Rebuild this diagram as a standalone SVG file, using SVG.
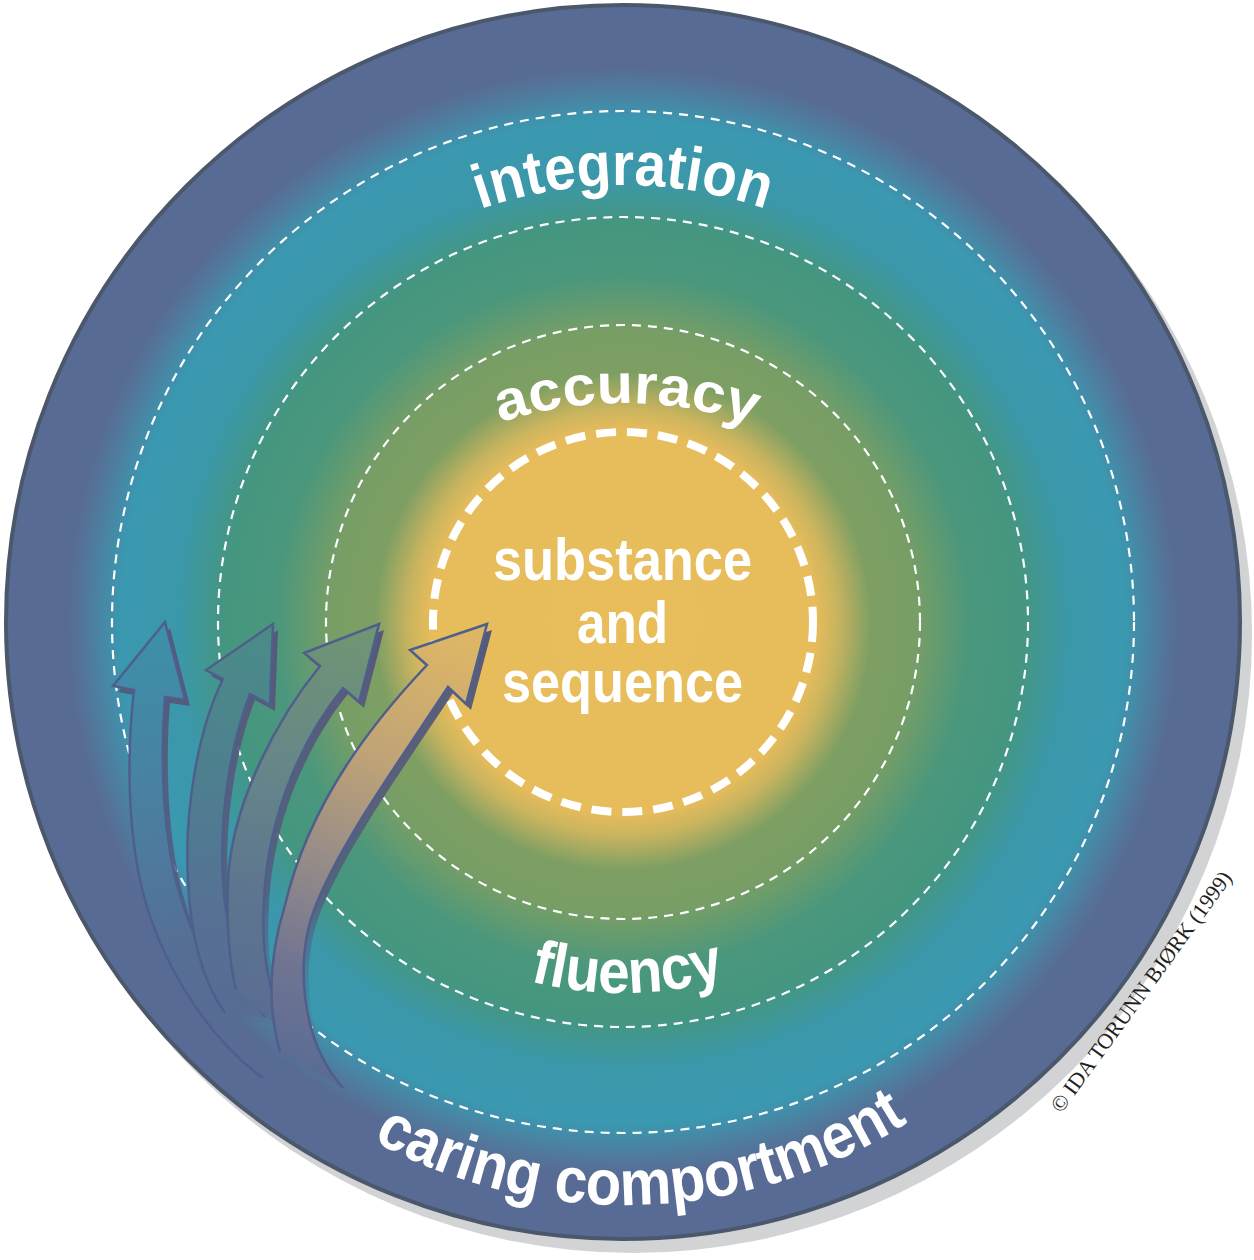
<svg xmlns="http://www.w3.org/2000/svg" width="1254" height="1260" viewBox="0 0 1254 1260">
  <style>
    .ring-label { font-family: "Liberation Sans", Arial, sans-serif; font-weight: bold; fill: #ffffff; }
    .center-label { font-family: "Liberation Sans", Arial, sans-serif; font-weight: bold; font-size: 60px; fill: #ffffff; }
    .thin-dash { fill: none; stroke: #ffffff; stroke-width: 2.2; stroke-dasharray: 9 7; }
    .thick-dash { fill: none; stroke: #ffffff; stroke-width: 8; stroke-dasharray: 20 11; }
    .arrow-outline { fill: none; stroke: #4F5F8B; stroke-width: 2.5; stroke-linejoin: miter; }
    .copyright { font-family: "Liberation Serif", "Times New Roman", serif; font-size: 22px; fill: #231F20; }
  </style>
  <defs>
    <radialGradient id="bgGrad" gradientUnits="userSpaceOnUse" cx="623" cy="622" r="620">
      <stop offset="0" stop-color="#E8BD5A"/>
      <stop offset="0.31" stop-color="#E7BC5B"/>
      <stop offset="0.345" stop-color="#C9B45F"/>
      <stop offset="0.40" stop-color="#7E9F63"/>
      <stop offset="0.47" stop-color="#789E65"/>
      <stop offset="0.56" stop-color="#4A977D"/>
      <stop offset="0.64" stop-color="#45967F"/>
      <stop offset="0.72" stop-color="#3B98AA"/>
      <stop offset="0.81" stop-color="#3A98B0"/>
      <stop offset="0.86" stop-color="#4F7C9E"/>
      <stop offset="0.895" stop-color="#586B94"/>
      <stop offset="1" stop-color="#586B94"/>
    </radialGradient>
    <linearGradient id="a1Grad" gradientUnits="userSpaceOnUse" x1="150" y1="630" x2="210" y2="1060">
      <stop offset="0" stop-color="#3D90AA"/>
      <stop offset="0.4" stop-color="#4A7FA0"/>
      <stop offset="0.75" stop-color="#566E96"/>
      <stop offset="1" stop-color="#586B94"/>
    </linearGradient>
    <linearGradient id="a2Grad" gradientUnits="userSpaceOnUse" x1="250" y1="630" x2="230" y2="1030">
      <stop offset="0" stop-color="#4A8C88"/>
      <stop offset="0.4" stop-color="#4E7E90"/>
      <stop offset="0.75" stop-color="#576F95"/>
      <stop offset="1" stop-color="#586B94"/>
    </linearGradient>
    <linearGradient id="a3Grad" gradientUnits="userSpaceOnUse" x1="350" y1="630" x2="260" y2="1050">
      <stop offset="0" stop-color="#6F9573"/>
      <stop offset="0.35" stop-color="#668689"/>
      <stop offset="0.65" stop-color="#5D758F"/>
      <stop offset="1" stop-color="#586B94"/>
    </linearGradient>
    <linearGradient id="a4Grad" gradientUnits="userSpaceOnUse" x1="460" y1="640" x2="300" y2="1080">
      <stop offset="0" stop-color="#DDB665"/>
      <stop offset="0.3" stop-color="#BFA377"/>
      <stop offset="0.55" stop-color="#958B88"/>
      <stop offset="0.78" stop-color="#707492"/>
      <stop offset="1" stop-color="#586B94"/>
    </linearGradient>
    <linearGradient id="shadowGrad" gradientUnits="userSpaceOnUse" x1="0" y1="620" x2="0" y2="1060">
      <stop offset="0" stop-color="#55597A" stop-opacity="1"/>
      <stop offset="0.6" stop-color="#555B7C" stop-opacity="0.85"/>
      <stop offset="1" stop-color="#586B94" stop-opacity="0"/>
    </linearGradient>
    <path id="p-int" d="M 186 622 A 437 437 0 0 1 1060 622"/>
    <path id="p-acc" d="M 226 800 A 397 397 0 0 1 1020 800"/>
    <path id="p-flu" d="M 252 622 A 371 371 0 0 0 994 622"/>
    <path id="p-car" d="M 100 680 A 525 525 0 0 0 1150 680"/>
  </defs>

  <g id="background">
    <circle cx="633" cy="634" r="619" fill="#D2D3D5"/>
    <circle cx="623" cy="622" r="617" fill="url(#bgGrad)" stroke="#4B586B" stroke-width="4"/>
  </g>

  <g id="ring-caring">
    <text class="ring-label" font-size="64"><textPath href="#p-car" startOffset="51.1%" text-anchor="middle" textLength="562" lengthAdjust="spacingAndGlyphs">caring comportment</textPath></text>
  </g>

  <g id="ring-integration">
    <circle class="thin-dash" cx="623" cy="622" r="511"/>
    <text class="ring-label" font-size="62"><textPath href="#p-int" startOffset="50%" text-anchor="middle" textLength="291" lengthAdjust="spacingAndGlyphs">integration</textPath></text>
  </g>

  <g id="ring-fluency">
    <circle class="thin-dash" cx="623" cy="622" r="405"/>
    <text class="ring-label" font-size="62"><textPath href="#p-flu" startOffset="50.4%" text-anchor="middle" textLength="198" lengthAdjust="spacingAndGlyphs">fluency</textPath></text>
  </g>

  <g id="ring-accuracy">
    <circle class="thin-dash" cx="623" cy="622" r="297"/>
    <text class="ring-label" font-size="56"><textPath href="#p-acc" startOffset="50.3%" text-anchor="middle" textLength="258" lengthAdjust="spacingAndGlyphs">accuracy</textPath></text>
  </g>

  <g id="node-substance">
    <circle class="thick-dash" cx="623" cy="622" r="190"/>
    <text class="center-label"><tspan x="493" y="580" textLength="259" lengthAdjust="spacingAndGlyphs">substance</tspan><tspan x="577" y="643" textLength="91" lengthAdjust="spacingAndGlyphs">and</tspan><tspan x="502" y="702" textLength="241" lengthAdjust="spacingAndGlyphs">sequence</tspan></text>
  </g>

  <g id="connectors">
    <g id="arrow-1">
      <path d="M 222 980 C 205 960 190 930 180 895 C 163 840 160 760 165 697 L 185 700 L 165 622 L 113 686 L 134 690 C 126 760 128 840 145 900 C 165 970 210 1040 263 1078 Z" fill="url(#shadowGrad)" transform="translate(5,6)"/>
      <path d="M 222 980 C 205 960 190 930 180 895 C 163 840 160 760 165 697 L 185 700 L 165 622 L 113 686 L 134 690 C 126 760 128 840 145 900 C 165 970 210 1040 263 1078 Z" fill="url(#a1Grad)"/>
      <path class="arrow-outline" d="M 222 980 C 205 960 190 930 180 895 C 163 840 160 760 165 697 L 185 700 L 165 622 L 113 686 L 134 690 C 126 760 128 840 145 900 C 165 970 210 1040 263 1078"/>
    </g>
    <g id="arrow-2">
      <path d="M 265 1017 C 245 990 226 940 223 880 C 219 810 232 740 250 694 L 270 705 L 273 624 L 206 670 L 223 679 C 198 730 184 810 188 880 C 190 940 205 985 225 1013 Z" fill="url(#shadowGrad)" transform="translate(5,6)"/>
      <path d="M 265 1017 C 245 990 226 940 223 880 C 219 810 232 740 250 694 L 270 705 L 273 624 L 206 670 L 223 679 C 198 730 184 810 188 880 C 190 940 205 985 225 1013 Z" fill="url(#a2Grad)"/>
      <path class="arrow-outline" d="M 265 1017 C 245 990 226 940 223 880 C 219 810 232 740 250 694 L 270 705 L 273 624 L 206 670 L 223 679 C 198 730 184 810 188 880 C 190 940 205 985 225 1013"/>
    </g>
    <g id="arrow-3">
      <path d="M 297 1043 C 272 1010 260 960 264 900 C 268 810 305 735 343 688 L 359 702 L 379 624 L 304 653 L 320 666 C 280 715 232 800 228 880 C 226 930 230 965 236 990 Z" fill="url(#shadowGrad)" transform="translate(5,6)"/>
      <path d="M 297 1043 C 272 1010 260 960 264 900 C 268 810 305 735 343 688 L 359 702 L 379 624 L 304 653 L 320 666 C 280 715 232 800 228 880 C 226 930 230 965 236 990 Z" fill="url(#a3Grad)"/>
      <path class="arrow-outline" d="M 297 1043 C 272 1010 260 960 264 900 C 268 810 305 735 343 688 L 359 702 L 379 624 L 304 653 L 320 666 C 280 715 232 800 228 880 C 226 930 230 965 236 990"/>
    </g>
    <g id="arrow-4">
      <path d="M 343 1088 C 300 1040 296 960 313 913 C 335 850 400 760 448 687 L 466 704 L 487 624 L 410 650 L 427 665 C 375 720 310 800 285 905 C 268 960 268 1010 280 1052 Z" fill="url(#shadowGrad)" transform="translate(5,6)"/>
      <path d="M 343 1088 C 300 1040 296 960 313 913 C 335 850 400 760 448 687 L 466 704 L 487 624 L 410 650 L 427 665 C 375 720 310 800 285 905 C 268 960 268 1010 280 1052 Z" fill="url(#a4Grad)"/>
      <path class="arrow-outline" d="M 343 1088 C 300 1040 296 960 313 913 C 335 850 400 760 448 687 L 466 704 L 487 624 L 410 650 L 427 665 C 375 720 310 800 285 905 C 268 960 268 1010 280 1052"/>
    </g>
  </g>

  <g id="copyright">
    <text class="copyright" transform="translate(1147,996) rotate(-54)" text-anchor="middle" textLength="292" lengthAdjust="spacingAndGlyphs">© IDA TORUNN BJØRK (1999)</text>
  </g>
</svg>
